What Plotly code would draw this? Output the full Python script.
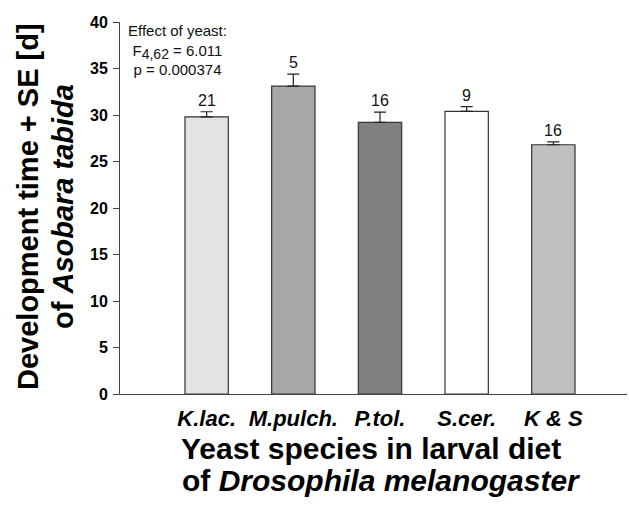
import plotly.graph_objects as go

# Development time of Asobara tabida on larvae reared on different yeasts
species = ["K.lac.", "M.pulch.", "P.tol.", "S.cer.", "K & S"]
mean_days = [29.8, 33.1, 29.2, 30.4, 26.8]
se_days = [0.55, 1.3, 1.1, 0.5, 0.3]
n_larvae = [21, 5, 16, 9, 16]
bar_colors = ["#e3e3e3", "#a8a8a8", "#808080", "#ffffff", "#c0c0c0"]
y_ticks = [0, 5, 10, 15, 20, 25, 30, 35, 40]

FONT = "Liberation Sans"
W, H = 629, 509
M_L, M_R, M_T, M_B = 120, 2, 22, 115
plot_w = W - M_L - M_R
plot_h = H - M_T - M_B


def px_x(px):
    return (px - M_L) / plot_w


def px_y(py):
    return (H - M_B - py) / plot_h


fig = go.Figure()
fig.add_trace(go.Bar(
    x=list(range(len(species))),
    y=mean_days,
    marker=dict(color=bar_colors, line=dict(color="#333333", width=1.2)),
    error_y=dict(type="data", array=se_days, arrayminus=[0] * len(se_days),
                 symmetric=False, color="#222222", thickness=1.2, width=6),
    width=0.5,
    hoverinfo="skip",
))

annotations = []
# sample sizes above the error bars
for i, (m, s, n) in enumerate(zip(mean_days, se_days, n_larvae)):
    annotations.append(dict(x=i, y=m + s, xref="x", yref="y", text=str(n),
                            showarrow=False, yanchor="bottom", yshift=1,
                            font=dict(family=FONT, size=16, color="#111111")))

# ANOVA result
annotations.append(dict(
    x=px_x(177), y=px_y(20), xref="paper", yref="paper",
    text=("Effect of yeast:<br>F<sub><span style='font-size:14px'>4,62</span></sub>"
          " = 6.011<br>p = 0.000374"),
    showarrow=False, xanchor="center", yanchor="top", align="center",
    font=dict(family=FONT, size=15, color="#111111")))

# y-axis title (two lines)
annotations.append(dict(
    x=px_x(28), y=px_y(207), xref="paper", yref="paper",
    text="<b>Development time + SE [d]</b>", textangle=-90,
    showarrow=False, xanchor="center", yanchor="middle",
    font=dict(family=FONT, size=29, color="#000000")))
annotations.append(dict(
    x=px_x(63), y=px_y(207), xref="paper", yref="paper",
    text="<b>of <i>Asobara tabida</i></b>", textangle=-90,
    showarrow=False, xanchor="center", yanchor="middle",
    font=dict(family=FONT, size=29, color="#000000")))

# x-axis title (two lines)
annotations.append(dict(
    x=px_x(371), y=px_y(448), xref="paper", yref="paper",
    text="<b>Yeast species in larval diet</b>",
    showarrow=False, xanchor="center", yanchor="middle",
    font=dict(family=FONT, size=30, color="#000000")))
annotations.append(dict(
    x=px_x(381), y=px_y(480), xref="paper", yref="paper",
    text="<b>of <i>Drosophila melanogaster</i></b>",
    showarrow=False, xanchor="center", yanchor="middle",
    font=dict(family=FONT, size=30, color="#000000")))

fig.update_layout(
    width=W, height=H,
    margin=dict(l=M_L, r=M_R, t=M_T, b=M_B, pad=0),
    paper_bgcolor="white", plot_bgcolor="white",
    showlegend=False,
    annotations=annotations,
    xaxis=dict(
        range=[-1.0, 4.85],
        tickmode="array", tickvals=list(range(len(species))),
        ticktext=[f"<b><i>{s}</i></b>" for s in species],
        tickfont=dict(family=FONT, size=22, color="#000000"),
        ticks="", ticklabelstandoff=5,
        showline=True, linecolor="#444444", linewidth=1,
        showgrid=False, zeroline=False, fixedrange=True,
    ),
    yaxis=dict(
        range=[0, 40],
        tickmode="array", tickvals=y_ticks,
        ticktext=[f"<b>{v}</b>" for v in y_ticks],
        tickfont=dict(family=FONT, size=16, color="#000000"),
        ticks="outside", ticklen=6, tickcolor="#444444", tickwidth=1,
        ticklabelstandoff=2,
        showline=True, linecolor="#444444", linewidth=1,
        showgrid=False, zeroline=False, fixedrange=True,
    ),
)

fig.write_html("out.html")
